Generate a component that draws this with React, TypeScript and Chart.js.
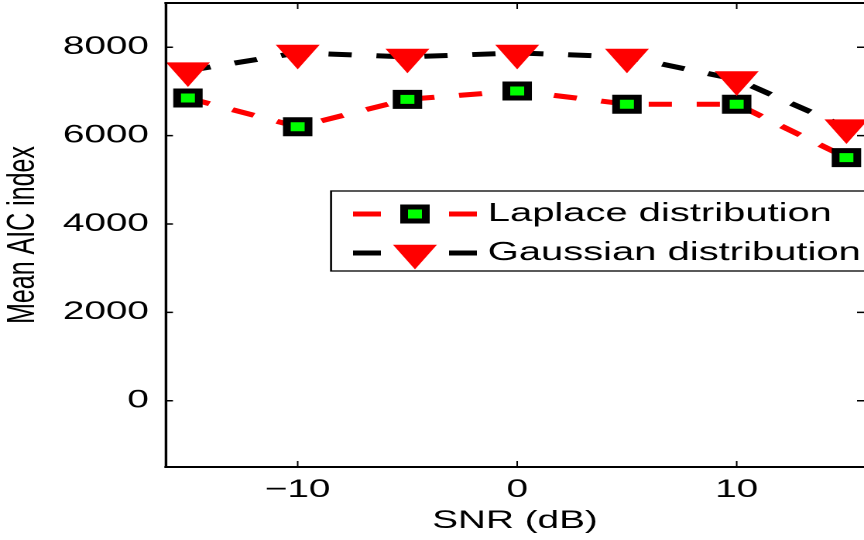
import { useEffect, useRef } from "react";
import { Chart, registerables } from "chart.js";

Chart.register(...registerables);

// SNR levels and mean AIC index for the two noise models
const snrDb = [-15, -10, -5, 0, 5, 10, 15];
const laplaceAic = [6850, 6200, 6820, 7010, 6710, 6710, 5500];
const gaussianAic = [7470, 7870, 7780, 7870, 7780, 7270, 6180];
const xTickValues = [-10, 0, 10];
const yTickValues = [0, 2000, 4000, 6000, 8000];
const seriesLabels = ["Laplace distribution", "Gaussian distribution"];
const xAxisTitle = "SNR (dB)";
const yAxisTitle = "Mean AIC index";

const FONT = '"Liberation Sans", Arial, Helvetica, sans-serif';
// The drawing surface is narrower than its on-screen box, so the whole figure
// is shown stretched horizontally.
const SURFACE_W = 558;
const SURFACE_H = 540;
const SHOWN_W = 864;

const RED = "#ff0000";
const GREEN = "#00ff00";
const BLACK = "#000000";
const DASH = [15, 16];

const fmtTick = (v: number) => (v < 0 ? "\u2212" + Math.abs(v) : String(v));

const noEdgePadding = (scale: any) => {
  scale.paddingTop = 0;
  scale.paddingBottom = 0;
  scale.paddingLeft = 0;
  scale.paddingRight = 0;
};

// Box, inward tick marks on all four sides
const framePlugin = {
  id: "matlabFrame",
  afterDatasetsDraw(chart: any) {
    const { ctx, chartArea, scales } = chart;
    const { left, right, top, bottom } = chartArea;
    const xs = scales.x;
    const ys = scales.y;
    ctx.save();
    ctx.strokeStyle = BLACK;
    ctx.lineCap = "butt";
    // horizontal edges
    ctx.lineWidth = 2;
    ctx.beginPath();
    ctx.moveTo(left - 1, top);
    ctx.lineTo(right + 2, top);
    ctx.moveTo(left - 1, bottom);
    ctx.lineTo(right + 2, bottom);
    ctx.stroke();
    // left edge
    ctx.lineWidth = 1.7;
    ctx.beginPath();
    ctx.moveTo(left, top - 1);
    ctx.lineTo(left, bottom + 1);
    ctx.stroke();
    // x ticks (vertical strokes)
    ctx.lineWidth = 1;
    ctx.beginPath();
    for (const v of xTickValues) {
      const px = xs.getPixelForValue(v);
      ctx.moveTo(px, bottom);
      ctx.lineTo(px, bottom - 6);
      ctx.moveTo(px, top);
      ctx.lineTo(px, top + 6);
    }
    ctx.stroke();
    // y ticks (horizontal strokes)
    ctx.lineWidth = 1.5;
    ctx.beginPath();
    for (const v of yTickValues) {
      const py = ys.getPixelForValue(v);
      ctx.moveTo(left, py);
      ctx.lineTo(left + 4.5, py);
      ctx.moveTo(right, py);
      ctx.lineTo(right - 4.5, py);
    }
    ctx.stroke();
    ctx.restore();
  },
};

function drawSquareMarker(ctx: CanvasRenderingContext2D, cx: number, cy: number) {
  ctx.fillStyle = BLACK;
  ctx.fillRect(cx - 9.5, cy - 9.5, 19, 19);
  ctx.fillStyle = GREEN;
  ctx.fillRect(cx - 4.5, cy - 4.5, 9, 9);
}

function drawTriangleMarker(ctx: CanvasRenderingContext2D, cx: number, cy: number, r: number) {
  const s = (r * Math.sqrt(3)) / 2;
  ctx.fillStyle = RED;
  ctx.beginPath();
  ctx.moveTo(cx - s, cy - r / 2);
  ctx.lineTo(cx + s, cy - r / 2);
  ctx.lineTo(cx, cy + r);
  ctx.closePath();
  ctx.fill();
}

// Legend in the style "dash  marker  dash  label"
const legendPlugin = {
  id: "matlabLegend",
  afterDraw(chart: any) {
    const { ctx } = chart;
    const boxLeft = 213.8;
    const boxTop = 191;
    const boxBottom = 271;
    ctx.save();
    ctx.fillStyle = "#ffffff";
    ctx.fillRect(boxLeft, boxTop, SURFACE_W - boxLeft + 5, boxBottom - boxTop);
    ctx.strokeStyle = BLACK;
    ctx.lineWidth = 1.3;
    ctx.strokeRect(boxLeft, boxTop, SURFACE_W - boxLeft + 5, boxBottom - boxTop);

    const rows = [
      { y: 214, color: RED, marker: "square", label: seriesLabels[0] },
      { y: 253, color: BLACK, marker: "triangle", label: seriesLabels[1] },
    ];
    for (const row of rows) {
      ctx.strokeStyle = row.color;
      ctx.lineWidth = 5;
      ctx.lineCap = "butt";
      ctx.beginPath();
      ctx.moveTo(228, row.y);
      ctx.lineTo(246, row.y);
      ctx.moveTo(290, row.y);
      ctx.lineTo(308, row.y);
      ctx.stroke();
      if (row.marker === "square") drawSquareMarker(ctx, 268, row.y);
      else drawTriangleMarker(ctx, 268, row.y, 16.4);
      ctx.fillStyle = BLACK;
      ctx.font = `25.8px ${FONT}`;
      ctx.textAlign = "left";
      ctx.textBaseline = "middle";
      ctx.fillText(row.label, 315, row.y);
    }
    ctx.restore();
  },
};

export default function App() {
  const canvasRef = useRef<HTMLCanvasElement | null>(null);

  useEffect(() => {
    const canvas = canvasRef.current;
    if (!canvas) return;

    const chart = new Chart(canvas, {
      type: "line",
      data: {
        datasets: [
          {
            label: seriesLabels[0],
            data: snrDb.map((x, i) => ({ x, y: laplaceAic[i] })),
            order: 1,
            borderColor: RED,
            borderWidth: 5,
            borderDash: DASH,
            tension: 0,
            fill: false,
            clip: false,
            pointStyle: "rect",
            pointRadius: 9.9,
            pointBorderWidth: 5,
            pointBackgroundColor: GREEN,
            pointBorderColor: BLACK,
          },
          {
            label: seriesLabels[1],
            data: snrDb.map((x, i) => ({ x, y: gaussianAic[i] })),
            order: 0,
            borderColor: BLACK,
            borderWidth: 5,
            borderDash: DASH,
            tension: 0,
            fill: false,
            clip: false,
            pointStyle: "triangle",
            pointRotation: 180,
            pointRadius: 16.4,
            pointBorderWidth: 0,
            pointBackgroundColor: RED,
            pointBorderColor: RED,
          },
        ],
      },
      options: {
        animation: false,
        responsive: false,
        maintainAspectRatio: false,
        devicePixelRatio: 2,
        events: [],
        layout: { autoPadding: false, padding: { top: 3, right: 0, bottom: 0, left: 0 } },
        plugins: {
          legend: { display: false },
          tooltip: { enabled: false },
        },
        scales: {
          x: {
            type: "linear",
            position: "bottom",
            min: -16,
            max: 15.8,
            grid: { display: false, drawTicks: false },
            border: { display: false },
            afterBuildTicks: (scale: any) => {
              scale.ticks = xTickValues.map((value) => ({ value }));
            },
            afterFit: (scale: any) => {
              scale.height = 73;
              noEdgePadding(scale);
            },
            ticks: {
              color: BLACK,
              padding: 8,
              maxRotation: 0,
              autoSkip: false,
              font: { family: FONT, size: 25 },
              callback: (v: any) => fmtTick(Number(v)),
            },
            title: {
              display: true,
              text: xAxisTitle,
              color: BLACK,
              font: { family: FONT, size: 25 },
              padding: { top: 0, bottom: 4 },
            },
          },
          y: {
            type: "linear",
            min: -1500,
            max: 9000,
            grid: { display: false, drawTicks: false },
            border: { display: false },
            afterBuildTicks: (scale: any) => {
              scale.ticks = yTickValues.map((value) => ({ value }));
            },
            afterFit: (scale: any) => {
              scale.width = 107.2;
              noEdgePadding(scale);
            },
            ticks: {
              color: BLACK,
              padding: 11,
              autoSkip: false,
              font: { family: FONT, size: 25 },
              callback: (v: any) => fmtTick(Number(v)),
            },
            title: {
              display: true,
              text: yAxisTitle,
              color: BLACK,
              font: { family: FONT, size: 25 },
              padding: { top: 0, bottom: 0 },
            },
          },
        },
      },
      plugins: [framePlugin, legendPlugin],
    } as any);

    return () => chart.destroy();
  }, []);

  return (
    <div style={{ position: "absolute", left: 0, top: 0, width: SHOWN_W, height: SURFACE_H, background: "#fff" }}>
      <canvas
        ref={canvasRef}
        width={SURFACE_W}
        height={SURFACE_H}
        style={{ display: "block", width: `${SHOWN_W}px`, height: `${SURFACE_H}px` }}
      />
    </div>
  );
}
